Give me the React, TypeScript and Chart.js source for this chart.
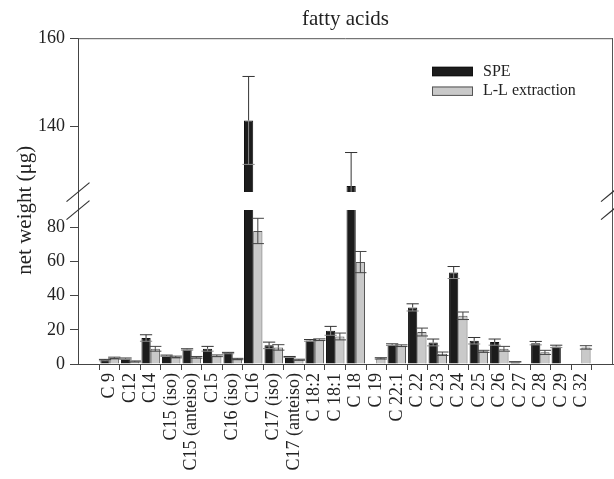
import { useEffect, useRef } from "react";
import { Chart, registerables } from "chart.js";

Chart.register(...registerables);

const categories = [
  "C 9", "C12", "C14", "C15 (iso)", "C15 (anteiso)", "C15", "C16 (iso)", "C16",
  "C17 (iso)", "C17 (anteiso)", "C 18:2", "C 18:1", "C 18", "C 19", "C 22:1",
  "C 22", "C 23", "C 24", "C 25", "C 26", "C 27", "C 28", "C 29", "C 32",
];
const speValues = [2.3, 3.1, 15.2, 4.8, 8.5, 8.9, 6.4, 141.3, 10.9, 4.1, 13.8, 19.4, 126.4, null, 11.3, 33.1, 12.6, 53.5, 13.6, 12.8, 1.2, 12.2, 10.3, null];
const speErrors = [0.4, 0.4, 1.9, 0.4, 0.4, 1.4, 0.4, 10, 1.9, 0.3, 0.5, 2.6, 7.6, null, 0.5, 2.1, 2.0, 3.5, 1.9, 1.8, 0.2, 1.0, 0.7, null];
const llValues = [3.5, 1.5, 8.9, 4.1, 3.9, 4.8, 2.9, 77.8, 9.7, 2.5, 14.2, 16.1, 59.6, 3.3, 10.7, 18.7, 6.0, 28.2, 7.4, 8.9, null, 6.8, null, 9.7];
const llErrors = [0.5, 0.3, 1.4, 0.5, 0.5, 0.5, 0.4, 7.4, 1.6, 0.3, 0.5, 2.0, 6.2, 0.4, 0.5, 2.3, 1.0, 2.2, 0.6, 1.4, null, 1.2, null, 1.0];
const upperTicks = [140, 160];
const lowerTicks = [0, 20, 40, 60, 80];
const upperRange = [125, 160];
const lowerRange = [0, 90];

const FONT = '"Liberation Serif", "DejaVu Serif", serif';
const TEXT = "#222";
const AXIS = "#444";

const line = (ctx: CanvasRenderingContext2D, x1: number, y1: number, x2: number, y2: number) => {
  ctx.beginPath();
  ctx.moveTo(x1, y1);
  ctx.lineTo(x2, y2);
  ctx.stroke();
};

const errorBarPlugin = {
  id: "errorBars",
  afterDatasetsDraw(chart: any) {
    const { ctx, chartArea } = chart;
    const scs = [chart.scales.yHigh, chart.scales.yLow];
    chart.data.datasets.forEach((ds: any, di: number) => {
      if (!ds.errors) return;
      const meta = chart.getDatasetMeta(di);
      ds.values.forEach((v: number | null, i: number) => {
        const e = ds.errors[i];
        if (v == null || e == null) return;
        const bar = meta.data[i];
        if (!bar || !isFinite(bar.x) || !isFinite(bar.width)) return;
        const x = bar.x;
        const half = bar.width / 2 + 1.5;
        scs.forEach((sc: any) => {
          ctx.save();
          ctx.beginPath();
          ctx.rect(chartArea.left, sc.top, chartArea.right - chartArea.left, sc.bottom - sc.top);
          ctx.clip();
          const yT = sc.getPixelForValue(v + e);
          const yM = sc.getPixelForValue(v);
          const yB = sc.getPixelForValue(v - e);
          ctx.lineWidth = 1;
          ctx.strokeStyle = ds.errorColor;
          line(ctx, x, yM, x, yT);
          line(ctx, x - half, yT, x + half, yT);
          ctx.strokeStyle = ds.errorInnerColor;
          line(ctx, x, yM, x, yB);
          line(ctx, x - half, yB, x + half, yB);
          ctx.restore();
        });
      });
    });
  },
};

const decorPlugin = {
  id: "decor",
  afterDraw(chart: any) {
    const { ctx, chartArea } = chart;
    const hi = chart.scales.yHigh;
    const lo = chart.scales.yLow;
    ctx.save();
    // frame top & right
    ctx.strokeStyle = "#555";
    ctx.lineWidth = 1;
    line(ctx, chartArea.left, chartArea.top + 0.5, chartArea.right, chartArea.top + 0.5);
    line(ctx, chartArea.right - 0.5, chartArea.top, chartArea.right - 0.5, chartArea.bottom);
    // break slashes
    ctx.strokeStyle = "#333";
    ctx.lineWidth = 1.2;
    [chartArea.left, chartArea.right - 0.5].forEach((ax) => {
      [hi.bottom, lo.top].forEach((yy) => {
        line(ctx, ax - 11.5, yy + 9.5, ax + 11.5, yy - 9.5);
      });
    });
    // y title
    ctx.fillStyle = TEXT;
    ctx.font = `21px ${FONT}`;
    ctx.textAlign = "center";
    ctx.textBaseline = "middle";
    ctx.translate(25, chartArea.top + (chartArea.bottom - chartArea.top) * 0.528);
    ctx.rotate(-Math.PI / 2);
    ctx.fillText("net weight (\u03bcg)", 0, 0);
    ctx.restore();

    // legend
    ctx.save();
    const items = chart.data.datasets.filter((d: any) => d.inLegend);
    let y = chartArea.top + 33.3;
    const x0 = chartArea.left + 354;
    ctx.font = `16px ${FONT}`;
    ctx.textBaseline = "middle";
    ctx.textAlign = "left";
    items.forEach((d: any) => {
      ctx.fillStyle = d.backgroundColor;
      ctx.fillRect(x0, y - 4.7, 41, 9.4);
      ctx.strokeStyle = d.borderColor;
      ctx.lineWidth = 1;
      ctx.strokeRect(x0 + 0.5, y - 4.7 + 0.5, 40, 8.4);
      ctx.fillStyle = TEXT;
      ctx.fillText(d.label, x0 + 51, y);
      y += 19.7;
    });
    ctx.restore();
  },
};

export default function App() {
  const ref = useRef<HTMLCanvasElement>(null);
  useEffect(() => {
    const pts = (vals: (number | null)[]) => vals.map((v, i) => ({ x: i, y: v }));
    const speHigh = speValues.map((v) => (v != null && v > upperRange[0] ? v : null));
    const chart = new Chart(ref.current as HTMLCanvasElement, {
      type: "bar",
      data: {
        datasets: [
          {
            label: "SPE",
            data: pts(speValues),
            values: speValues,
            errors: speErrors,
            errorColor: "#333",
            errorInnerColor: "#8a8a8a",
            inLegend: true,
            yAxisID: "yLow",
            stack: "spe",
            backgroundColor: "#1c1c1c",
            borderColor: "#111",
            borderWidth: 1,
          },
          {
            label: "L-L extraction",
            data: pts(llValues),
            values: llValues,
            errors: llErrors,
            errorColor: "#444",
            errorInnerColor: "#444",
            inLegend: true,
            yAxisID: "yLow",
            stack: "ll",
            backgroundColor: "#c9c9c9",
            borderColor: "#555",
            borderWidth: 1,
          },
          {
            label: "SPE (upper)",
            data: pts(speHigh),
            yAxisID: "yHigh",
            stack: "spe",
            backgroundColor: "#1c1c1c",
            borderColor: "#111",
            borderWidth: 1,
          },
        ] as any,
      },
      options: {
        responsive: false,
        animation: false,
        categoryPercentage: 0.9,
        barPercentage: 1.0,
        layout: { padding: { left: 0, right: 1, top: 0, bottom: 0 } },
        plugins: {
          legend: { display: false },
          tooltip: { enabled: false },
          title: {
            display: true,
            text: "fatty acids",
            fullSize: false,
            color: TEXT,
            font: { family: FONT, size: 21, weight: "normal" },
            padding: { top: 7, bottom: 6 },
          },
        },
        scales: {
          x: {
            type: "linear",
            min: -1,
            max: categories.length,
            afterBuildTicks: (s: any) => {
              s.ticks = categories.map((_, i) => ({ value: i }));
            },
            afterFit: (s: any) => {
              s.height = 115;
            },
            ticks: {
              autoSkip: false,
              maxRotation: 90,
              minRotation: 90,
              padding: 3,
              color: TEXT,
              font: { family: FONT, size: 18 },
              callback: (v: any) => categories[v as number] ?? "",
            },
            grid: { drawOnChartArea: false, tickLength: 6, color: AXIS },
            border: { color: AXIS },
          },
          yLow: {
            type: "linear",
            position: "left",
            stack: "y",
            stackWeight: 154,
            stacked: false,
            min: lowerRange[0],
            max: lowerRange[1],
            afterBuildTicks: (s: any) => {
              s.ticks = lowerTicks.map((v) => ({ value: v }));
            },
            afterFit: (s: any) => {
              s.width = 78;
            },
            ticks: { padding: 5, color: TEXT, font: { family: FONT, size: 18 } },
            grid: { drawOnChartArea: false, tickLength: 8, color: AXIS },
            border: { color: AXIS },
          },
          yGap: {
            type: "linear",
            position: "left",
            stack: "y",
            stackWeight: 18,
            stacked: false,
            min: 0,
            max: 1,
            afterFit: (s: any) => {
              s.width = 78;
            },
            ticks: { display: false },
            grid: { display: false },
            border: { color: AXIS },
          },
          yHigh: {
            type: "linear",
            position: "left",
            stack: "y",
            stackWeight: 154,
            stacked: false,
            min: upperRange[0],
            max: upperRange[1],
            afterBuildTicks: (s: any) => {
              s.ticks = upperTicks.map((v) => ({ value: v }));
            },
            afterFit: (s: any) => {
              s.width = 78;
            },
            ticks: { padding: 5, color: TEXT, font: { family: FONT, size: 18 } },
            grid: { drawOnChartArea: false, tickLength: 8, color: AXIS },
            border: { color: AXIS },
          },
        },
      } as any,
      plugins: [errorBarPlugin, decorPlugin],
    });
    return () => chart.destroy();
  }, []);
  return (
    <div style={{ position: "fixed", left: 0, top: 0, width: 614, height: 479, background: "#fff" }}>
      <canvas ref={ref} width={614} height={479} style={{ display: "block" }} />
    </div>
  );
}
